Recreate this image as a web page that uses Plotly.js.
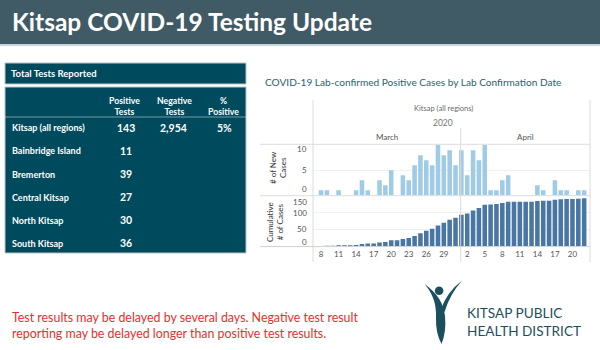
<!DOCTYPE html>
<html>
<head>
<meta charset="utf-8">
<script src="https://cdn.plot.ly/plotly-3.0.1.min.js"></script>
<style>
html,body{margin:0;padding:0;background:#fff;}
#chart{width:600px;height:350px;}
</style>
</head>
<body>
<div id="chart"></div>
<script>
// ---------------- DATA ----------------
const pageTitle = 'Kitsap COVID-19 Testing Update';
const tableTitle = 'Total Tests Reported';
const columnHeaders = ['Positive<br>Tests', 'Negative<br>Tests', '%<br>Positive'];
const regions = ['Kitsap (all regions)', 'Bainbridge Island', 'Bremerton', 'Central Kitsap', 'North Kitsap', 'South Kitsap'];
const positiveTests = [143, 11, 39, 27, 30, 36];
const negativeTests = [2954];
const pctPositive = ['5%'];

const chartTitle = 'COVID-19 Lab-confirmed Positive Cases by Lab Confirmation Date';
const chartSubtitle = 'Kitsap (all regions)';
const yearLabel = '2020';
const monthLabels = ['March', 'April'];

const dates = [
 '2020-03-08','2020-03-09','2020-03-10','2020-03-11','2020-03-12','2020-03-13','2020-03-14','2020-03-15',
 '2020-03-16','2020-03-17','2020-03-18','2020-03-19','2020-03-20','2020-03-21','2020-03-22','2020-03-23',
 '2020-03-24','2020-03-25','2020-03-26','2020-03-27','2020-03-28','2020-03-29','2020-03-30','2020-03-31',
 '2020-04-01','2020-04-02','2020-04-03','2020-04-04','2020-04-05','2020-04-06','2020-04-07','2020-04-08',
 '2020-04-09','2020-04-10','2020-04-11','2020-04-12','2020-04-13','2020-04-14','2020-04-15','2020-04-16',
 '2020-04-17','2020-04-18','2020-04-19','2020-04-20','2020-04-21','2020-04-22'
];
const newCases = [
 1,1,0,1,0,0,1,3,
 1,0,3,2,5,0,4,3,
 6,8,7,6,10,8,9,6,
 9,4,9,7,10,1,1,3,
 4,0,0,0,0,2,1,0,
 3,1,1,0,1,1
];
const cumulativeCases = [
 1,2,2,3,3,3,4,7,
 8,8,11,13,18,18,22,25,
 31,39,46,52,62,70,79,85,
 94,98,107,114,124,125,126,129,
 133,133,133,133,133,135,136,136,
 139,140,141,141,142,143
];
const tickDates = ['2020-03-08','2020-03-11','2020-03-14','2020-03-17','2020-03-20','2020-03-23','2020-03-26','2020-03-29',
                   '2020-04-02','2020-04-05','2020-04-08','2020-04-11','2020-04-14','2020-04-17','2020-04-20'];
const tickText = ['8','11','14','17','20','23','26','29','2','5','8','11','14','17','20'];
const newTicks = [0, 5, 10];
const cumTicks = [0, 50, 100, 150];
const yTitleNew = '# of New<br>Cases';
const yTitleCum = 'Cumulative<br># of Cases';

const footnote = 'Test results may be delayed by several days. Negative test result<br>reporting may be delayed longer than positive test results.';
const logoText = 'KITSAP PUBLIC<br>HEALTH DISTRICT';

// ---------------- LAYOUT HELPERS ----------------
const W = 600, H = 350;
const X = px => px / W;
const Y = py => 1 - py / H;
const FONT = 'Lato, "Open Sans", sans-serif';
const HEADER_BG = '#405b66';
const TABLE_BG = '#004a5e';
const GRID_LINE = '#dcdcdc';
const LOGO = '#1c4f5e';

function rect(x0, y0, x1, y1, fill, line) {
  return {type:'rect', xref:'paper', yref:'paper', x0:X(x0), x1:X(x1), y0:Y(y1), y1:Y(y0),
          fillcolor:fill, line: line || {width:0}, layer:'below'};
}
function hline(x0, x1, y, color, w) {
  return {type:'line', xref:'paper', yref:'paper', x0:X(x0), x1:X(x1), y0:Y(y), y1:Y(y),
          line:{color:color, width:w || 1}, layer:'above'};
}
function vline(x, y0, y1, color, w) {
  return {type:'line', xref:'paper', yref:'paper', x0:X(x), x1:X(x), y0:Y(y0), y1:Y(y1),
          line:{color:color, width:w || 1}, layer:'above'};
}
function pathPx(cmds) {
  return cmds.map(c => {
    const L = c[0]; const nums = c.slice(1); const parts = [L];
    for (let i = 0; i < nums.length; i += 2) parts.push(X(nums[i]) + ',' + Y(nums[i+1]));
    return parts.join(' ');
  }).join(' ');
}
function txt(x, y, text, opts) {
  return Object.assign({xref:'paper', yref:'paper', x:X(x), y:Y(y), text:text, showarrow:false,
    xanchor:'left', yanchor:'middle', font:{family:FONT, size:9, color:'#fff'}}, opts || {});
}

// ---------------- SHAPES ----------------
const shapes = [];
shapes.push(rect(0, 0, 600, 44, HEADER_BG));
shapes.push(rect(0, 44, 600, 46, '#c9d5d8'));
shapes.push(rect(5, 63, 246, 84, TABLE_BG, {color:'#b9c3c6', width:1}));
shapes.push(rect(5, 87, 246, 253, TABLE_BG, {color:'#b9c3c6', width:1}));
shapes.push(hline(5, 246, 117, 'rgba(255,255,255,0.45)', 1));

// chart frame lines
shapes.push(vline(313, 100, 262, GRID_LINE));
shapes.push(vline(590, 100, 262, GRID_LINE));
shapes.push(vline(460.7, 128, 262, GRID_LINE));
shapes.push(hline(260, 590, 144.3, GRID_LINE));
shapes.push(hline(260, 590, 195.7, GRID_LINE));
shapes.push(hline(260, 590, 246.6, '#cfcfcf'));

// logo figure
shapes.push({type:'path', xref:'paper', yref:'paper', fillcolor:LOGO, line:{width:0},
  path: pathPx([['M',424.5,284],['Q',437,298, 436,318],['Q',435.5,333, 441.5,344],
                ['Q',446.5,332, 445,316],['Q',443,297, 424.5,284],['Z']])});
shapes.push({type:'path', xref:'paper', yref:'paper', fillcolor:LOGO, line:{width:0},
  path: pathPx([['M',462,280.5],['Q',447,292, 440.5,310],['L',444.5,312],['Q',450,294, 462,280.5],['Z']])});
shapes.push({type:'circle', xref:'paper', yref:'paper', fillcolor:LOGO, line:{width:0},
  x0:X(434.8), x1:X(443.4), y0:Y(295), y1:Y(286.4)});

// ---------------- ANNOTATIONS ----------------
const ann = [];
ann.push(txt(10, 22, '<b>' + pageTitle + '</b>', {font:{family:FONT, size:24.5, color:'#fff'}}));
ann.push(txt(9, 73.5, '<b>' + tableTitle + '</b>', {font:{family:FONT, size:9.5, color:'#fff'}}));
const colX = [124, 174, 223];
columnHeaders.forEach((h, i) => ann.push(txt(colX[i], 106, '<b>' + h + '</b>',
  {xanchor:'center', align:'center', font:{family:FONT, size:8.7, color:'#fff'}})));
const rowY = [127.7, 150.7, 174, 197, 220, 243];
regions.forEach((r, i) => {
  ann.push(txt(10, rowY[i], '<b>' + r + '</b>', {font:{family:FONT, size:9, color:'#fff'}}));
  ann.push(txt(colX[0] + 1.5, rowY[i], '<b>' + positiveTests[i] + '</b>', {xanchor:'center', font:{family:FONT, size:10.5, color:'#fff'}}));
  if (i < negativeTests.length) {
    ann.push(txt(colX[1] - 1, rowY[i], '<b>' + negativeTests[i].toLocaleString('en-US') + '</b>', {xanchor:'center', font:{family:FONT, size:10.5, color:'#fff'}}));
    ann.push(txt(colX[2] + 1, rowY[i], '<b>' + pctPositive[i] + '</b>', {xanchor:'center', font:{family:FONT, size:10.5, color:'#fff'}}));
  }
});

ann.push(txt(263, 81.5, chartTitle, {font:{family:FONT, size:10.1, color:'#2c6170'}}));
ann.push(txt(443, 109, chartSubtitle, {xanchor:'center', font:{family:FONT, size:7.5, color:'#6b6b6b'}}));
ann.push(txt(443, 123, yearLabel, {xanchor:'center', font:{family:FONT, size:8.5, color:'#777'}}));
ann.push(txt(387, 137, monthLabels[0], {xanchor:'center', font:{family:FONT, size:8, color:'#555'}}));
ann.push(txt(525, 137, monthLabels[1], {xanchor:'center', font:{family:FONT, size:8, color:'#555'}}));
ann.push(txt(278, 168, yTitleNew, {xanchor:'center', textangle:-90, align:'center', font:{family:FONT, size:8, color:'#333'}}));
ann.push(txt(275, 222, yTitleCum, {xanchor:'center', textangle:-90, align:'center', font:{family:FONT, size:8, color:'#333'}}));

// y tick labels (extreme labels nudged inward like the reference)
const tickFont = {family:FONT, size:8, color:'#555'};
const newShift = [6, 0, -4];
newTicks.forEach((v, i) => ann.push({xref:'paper', yref:'y2', x:X(309), y:v, text:String(v), showarrow:false,
  xanchor:'right', yanchor:'middle', yshift:newShift[i], font:tickFont}));
const cumShift = [4, 1, 0, -6];
cumTicks.forEach((v, i) => ann.push({xref:'paper', yref:'y', x:X(309), y:v, text:String(v), showarrow:false,
  xanchor:'right', yanchor:'middle', yshift:cumShift[i], font:tickFont}));

ann.push(txt(10, 325, footnote, {yanchor:'middle', align:'left', font:{family:FONT, size:12.4, color:'#e3312d'}}));
ann.push(txt(465, 322, logoText, {align:'left', font:{family:FONT, size:13.6, color:LOGO}}));

// ---------------- TRACES ----------------
const traces = [
  {type:'bar', x:dates, y:newCases, xaxis:'x2', yaxis:'y2', marker:{color:'#9fcbe6'}, hoverinfo:'x+y'},
  {type:'bar', x:dates, y:cumulativeCases, xaxis:'x', yaxis:'y', marker:{color:'#4a76a4'}, hoverinfo:'x+y'}
];

const xRange = ['2020-03-06 15:00', '2020-04-23 00:00'];
const layout = {
  width: W, height: H,
  margin: {l:0, r:0, t:0, b:0, pad:0},
  paper_bgcolor: '#fff', plot_bgcolor: 'rgba(0,0,0,0)',
  showlegend: false,
  bargap: 0.22,
  xaxis: {domain:[X(313), X(590)], anchor:'y', type:'date', range:xRange,
          tickmode:'array', tickvals:tickDates, ticktext:tickText, tickfont:tickFont,
          showgrid:false, zeroline:false, showline:false, ticks:'', ticklabelstandoff:2, fixedrange:true},
  xaxis2: {domain:[X(313), X(590)], anchor:'y2', type:'date', range:xRange, matches:'x',
           showticklabels:false, showgrid:false, zeroline:false, showline:false, ticks:''},
  yaxis: {domain:[Y(246.3), Y(196)], range:[0, 150], tickmode:'array', tickvals:cumTicks,
          showticklabels:false, showgrid:true, gridcolor:'#f0f0f0', zeroline:false, showline:false, ticks:''},
  yaxis2: {domain:[Y(195.4), Y(144.6)], range:[0, 10.1], tickmode:'array', tickvals:newTicks,
           showticklabels:false, showgrid:true, gridcolor:'#f0f0f0', zeroline:false, showline:false, ticks:''},
  shapes: shapes,
  annotations: ann
};

Plotly.newPlot('chart', traces, layout, {displayModeBar:false, staticPlot:true});
</script>
</body>
</html>
